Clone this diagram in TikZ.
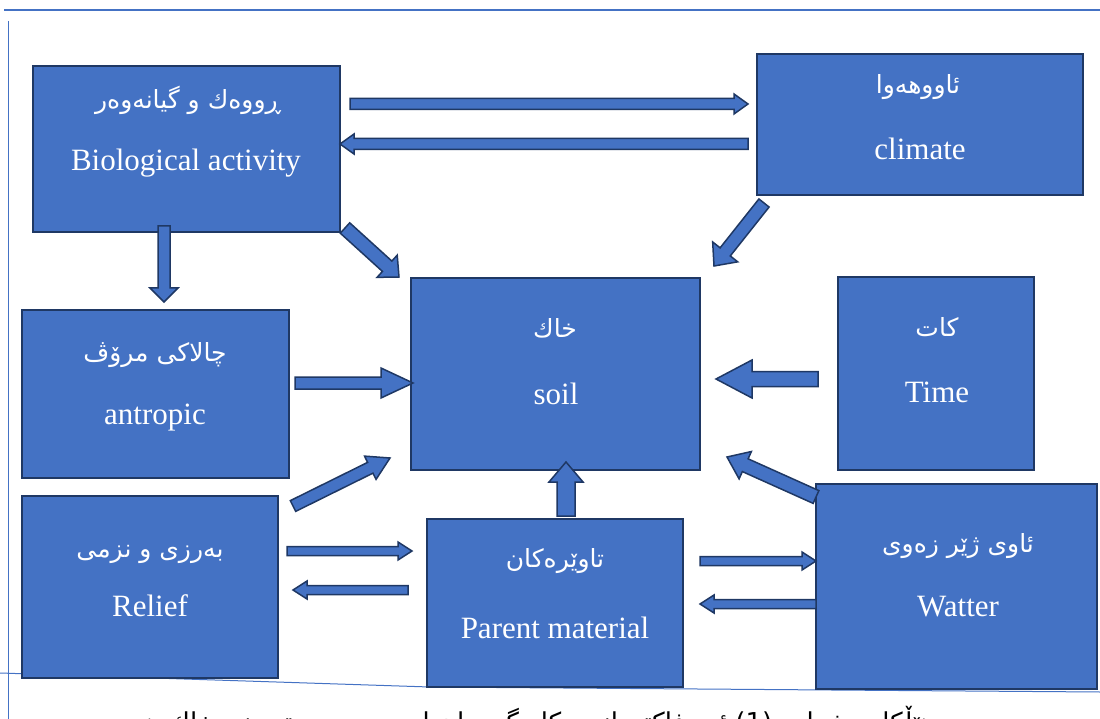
\documentclass[tikz,border=0pt]{standalone}
\usepackage{fontspec}
\setmainfont{Liberation Serif}
\newfontfamily\arfont[Script=Arabic]{DejaVu Sans}
\TeXXeTstate=1
\usetikzlibrary{calc}
\definecolor{boxfill}{HTML}{4472C4}
\definecolor{boxline}{HTML}{1F3864}
\definecolor{rulecol}{HTML}{4472C4}
\tikzset{
  fbox/.style={draw=boxline, fill=boxfill, line width=1.6pt, inner sep=0pt, outer sep=0pt},
  blockarrow/.style={draw=boxline, fill=boxfill, line width=1.5pt, line join=miter},
  entext/.style={text=white, font=\fontsize{31}{36}\selectfont, anchor=base, inner sep=0pt},
  kutext/.style={text=white, font=\arfont\fontsize{25}{30}\selectfont, anchor=base, inner sep=0pt},
}
\newcommand\blkarrow[5]{%
  \path (#1) coordinate (ba-s) (#2) coordinate (ba-e);
  \path ($(ba-e)!#5!(ba-s)$) coordinate (ba-h);
  \draw[blockarrow] ($(ba-s)!#3!90:(ba-e)$) -- ($(ba-h)!#3!-90:(ba-s)$) -- ($(ba-h)!#4!-90:(ba-s)$) -- (ba-e) -- ($(ba-h)!#4!90:(ba-s)$) -- ($(ba-h)!#3!90:(ba-s)$) -- ($(ba-s)!#3!-90:(ba-e)$) -- cycle;
}
\begin{document}
\begin{tikzpicture}[x=1pt,y=-1pt]
\useasboundingbox (0,0) rectangle (1100,719);
\clip (0,0) rectangle (1100,719);
% page rules
\coordinate (rt1) at (4,10); \coordinate (rt2) at (1100,10);
\draw[rulecol, line width=1.8pt] (rt1) -- (rt2);
\coordinate (rl1) at (8,21); \coordinate (rl2) at (8,719);
\draw[rulecol, line width=1pt] (rl1) -- (rl2);
\coordinate (rb1) at (0,673); \coordinate (rb2) at (430,687); \coordinate (rb3) at (1100,692);
\draw[rulecol, line width=1pt] (rb1) -- (rb2) -- (rb3);
% caption (cut off at the page bottom)
\node[anchor=base east, inner sep=0pt, font=\arfont\fontsize{26}{30}\selectfont] (caption) at (935,731) {\beginR هێڵکاری ژمارە (\beginL 1\endL) ئەو فاکتەرانەی کاریگەرییان لەسەر دروستبوونی خاك هەیە\endR};
% boxes
\node[fbox, minimum width=307pt, minimum height=166pt] (bio) at (186.5,149) {};
\node[fbox, minimum width=326pt, minimum height=141pt] (clim) at (920,124.5) {};
\node[fbox, minimum width=267pt, minimum height=168pt] (antr) at (155.5,394) {};
\node[fbox, minimum width=289pt, minimum height=192pt] (soil) at (555.5,374) {};
\node[fbox, minimum width=196pt, minimum height=193pt] (time) at (936,373.5) {};
\node[fbox, minimum width=256pt, minimum height=182pt] (relief) at (150,587) {};
\node[fbox, minimum width=256pt, minimum height=168pt] (parent) at (555,603) {};
\node[fbox, minimum width=281pt, minimum height=205pt] (water) at (956.5,586.5) {};
% texts
\node[kutext] (bioku) at (188,109) {\beginR ڕووەك و گیانەوەر\endR};
\node[entext] (bioen) at (186,171) {Biological activity};
\node[kutext] (climku) at (918,94) {\beginR ئاووهەوا\endR};
\node[entext] (climen) at (920,160) {climate};
\node[kutext] (antrku) at (155,361) {\beginR چالاكی مرۆڤ\endR};
\node[entext] (antren) at (155,424) {antropic};
\node[kutext] (soilku) at (555,337) {\beginR خاك\endR};
\node[entext] (soilen) at (556,404) {soil};
\node[kutext] (timeku) at (937,336) {\beginR كات\endR};
\node[entext] (timeen) at (937,402) {Time};
\node[kutext] (reliefku) at (150,557) {\beginR بەرزی و نزمی\endR};
\node[entext] (reliefen) at (150,616) {Relief};
\node[kutext] (parentku) at (555,567) {\beginR تاوێرەكان\endR};
\node[entext] (parenten) at (555,638) {Parent material};
\node[kutext] (waterku) at (958,552) {\beginR ئاوی ژێر زەوی\endR};
\node[entext] (wateren) at (958,616) {Watter};
% arrow end points
\coordinate (a1s) at (350,104); \coordinate (a1e) at (748,104);
\coordinate (a2s) at (748,144); \coordinate (a2e) at (340,144);
\coordinate (a3s) at (164,226); \coordinate (a3e) at (164,302);
\coordinate (a4s) at (345,228); \coordinate (a4e) at (399,277);
\coordinate (a5s) at (764,203); \coordinate (a5e) at (714,266);
\coordinate (a6s) at (295,383); \coordinate (a6e) at (413,383);
\coordinate (a7s) at (818,379); \coordinate (a7e) at (716,379);
\coordinate (a8s) at (293,506); \coordinate (a8e) at (390,458);
\coordinate (a9s) at (287,551); \coordinate (a9e) at (412,551);
\coordinate (a10s) at (408,590); \coordinate (a10e) at (293,590);
\coordinate (a11s) at (566,516); \coordinate (a11e) at (566,462);
\coordinate (a12s) at (700,561); \coordinate (a12e) at (816,561);
\coordinate (a13s) at (816,604); \coordinate (a13e) at (700,604);
\coordinate (a14s) at (816,497); \coordinate (a14e) at (727,457);
% arrows
\blkarrow{a1s}{a1e}{5.5pt}{10pt}{14pt}
\blkarrow{a2s}{a2e}{5.5pt}{10pt}{14pt}
\blkarrow{a3s}{a3e}{6pt}{14pt}{14pt}
\blkarrow{a4s}{a4e}{7pt}{15pt}{16pt}
\blkarrow{a5s}{a5e}{6.5pt}{16pt}{18pt}
\blkarrow{a6s}{a6e}{6pt}{15pt}{32pt}
\blkarrow{a7s}{a7e}{7.5pt}{19pt}{36pt}
\blkarrow{a8s}{a8e}{6pt}{13pt}{22pt}
\blkarrow{a9s}{a9e}{4.5pt}{9pt}{14pt}
\blkarrow{a10s}{a10e}{4.5pt}{9pt}{14pt}
\blkarrow{a11s}{a11e}{9pt}{17pt}{20pt}
\blkarrow{a12s}{a12e}{4.5pt}{9pt}{14pt}
\blkarrow{a13s}{a13e}{4.5pt}{9pt}{14pt}
\blkarrow{a14s}{a14e}{7pt}{15pt}{20pt}
\end{tikzpicture}
\end{document}
